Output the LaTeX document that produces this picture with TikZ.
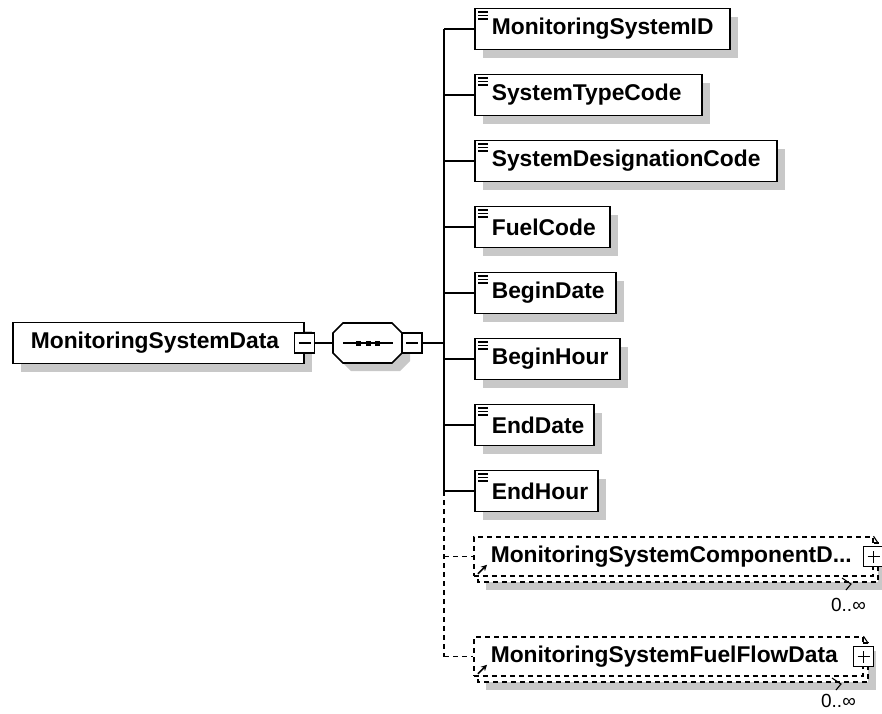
\documentclass[tikz,border=0pt]{standalone}
\usepackage{fontspec}
\setmainfont{Liberation Sans}
\usetikzlibrary{shadows,arrows.meta}
\definecolor{shgray}{RGB}{200,200,200}
\newcommand\elemfont{\fontsize{22.8}{26}\selectfont\bfseries}
\newcommand\multfont{\fontsize{19}{22}\selectfont}
\begin{document}
\begin{tikzpicture}[x=1pt,y=-1pt,
 conn/.style={line width=1.7pt},
 dconn/.style={line width=1.5pt, dash pattern=on 5pt off 4pt},
 elem/.style={draw, line width=1.7pt, fill=white, minimum height=41pt, inner xsep=0pt, inner ysep=0pt, text width=#1, align=left, font=\elemfont, anchor=west, general shadow={fill=shgray, shadow xshift=8pt, shadow yshift=-8pt}},
 dfront/.style={draw, line width=1.5pt, dash pattern=on 5pt off 4pt, fill=white, minimum height=39pt, inner xsep=0pt, inner ysep=0pt, text width=#1, align=left, font=\elemfont, anchor=west},
 dback/.style={line width=1.5pt, dash pattern=on 5pt off 4pt, fill=white},
 pm/.style={draw, fill=white, line width=1.5pt, minimum width=20pt, minimum height=20pt, inner sep=0pt},
 pmsign/.style={line width=1.4pt},
 icon/.style={line width=1.6pt},
 mult/.style={font=\multfont, inner sep=0pt, anchor=east},
 tick/.style={line width=1.1pt}
]
\useasboundingbox (0,0) rectangle (882,713);

% root element
\node[elem=291pt] (root) at (12,343) {\hspace*{18pt}MonitoringSystemData};
\node[pm] (rm) at (root.east) {};
\draw[pmsign] ([xshift=-6pt]rm.center) -- ([xshift=6pt]rm.center);

% sequence compositor
\fill[shgray] (351,331)--(400,331)--(410,341)--(410,361)--(400,371)--(351,371)--(341,361)--(341,341)--cycle;
\draw[line width=1.7pt, fill=white] (343,323)--(392,323)--(402,333)--(402,353)--(392,363)--(343,363)--(333,353)--(333,333)--cycle;
\coordinate (seqw) at (333,343);
\draw[line width=1.5pt] (343,343) -- (393,343);
\fill (356,340.5) rectangle (361,345.5);
\fill (366,340.5) rectangle (371,345.5);
\fill (375,340.5) rectangle (380,345.5);
\node[pm] (sm) at (412,343) {};
\draw[pmsign] ([xshift=-6pt]sm.center) -- ([xshift=6pt]sm.center);
\coordinate (tm) at (444,343);
\draw[conn] (rm.east) -- (seqw);
\draw[conn] (sm.east) -- (tm);

% child elements
\foreach \n/\t/\w/\y in {c1/MonitoringSystemID/255/29, c2/SystemTypeCode/227/95, c3/SystemDesignationCode/302/161, c4/FuelCode/135/227, c5/BeginDate/141/293, c6/BeginHour/145/359, c7/EndDate/119/425, c8/EndHour/123/491} {
  \node[elem=\w pt] (\n) at (474,\y) {\hspace*{17pt}\t};
  \coordinate (t\n) at (444,\y);
  \draw[conn] (t\n) -- (\n.west);
  \foreach \d in {4.5,8,11.5} \draw[icon] ([shift={(4pt,-\d pt)}]\n.north west) -- ++(10,0);
}

% optional, repeating children
\coordinate (td1) at (444,556.5);
\coordinate (td2) at (444,656.5);

\fill[shgray] (486,551) rectangle (886,590);
\draw[dback] (478,543) rectangle (878,582);
\node[dfront=399pt] (d1) at (473,556.5) {\hspace*{17pt}MonitoringSystemComponentD...};
\draw[tick] (d1.north east) -- (878,543);
\node[pm] (p1) at (d1.east) {};
\draw[pmsign] ([xshift=-6pt]p1.center) -- ([xshift=6pt]p1.center);
\draw[pmsign] ([yshift=-6pt]p1.center) -- ([yshift=6pt]p1.center);
\draw[line width=1.6pt, -{Stealth[length=6pt,width=6pt]}] ([shift={(5pt,3pt)}]d1.south west) -- ([shift={(14pt,12pt)}]d1.south west);
\draw[tick] (842,578) -- (851,584) -- (846,590);
\node[mult] (m1) at (866,605) {0..∞};

\fill[shgray] (486,651) rectangle (876,690);
\draw[dback] (478,643) rectangle (868,682);
\node[dfront=389pt] (d2) at (473,656.5) {\hspace*{17pt}MonitoringSystemFuelFlowData};
\draw[tick] (d2.north east) -- (868,643);
\node[pm] (p2) at (d2.east) {};
\draw[pmsign] ([xshift=-6pt]p2.center) -- ([xshift=6pt]p2.center);
\draw[pmsign] ([yshift=-6pt]p2.center) -- ([yshift=6pt]p2.center);
\draw[line width=1.6pt, -{Stealth[length=6pt,width=6pt]}] ([shift={(5pt,3pt)}]d2.south west) -- ([shift={(14pt,12pt)}]d2.south west);
\draw[tick] (832,678) -- (841,684) -- (836,690);
\node[mult] (m2) at (856,701) {0..∞};

% trunk
\draw[conn] (tc1) -- (tc8);
\draw[dconn] (tc8) -- (td2);
\draw[dconn] (td1) -- (d1.west);
\draw[dconn] (td2) -- (d2.west);
\end{tikzpicture}
\end{document}
